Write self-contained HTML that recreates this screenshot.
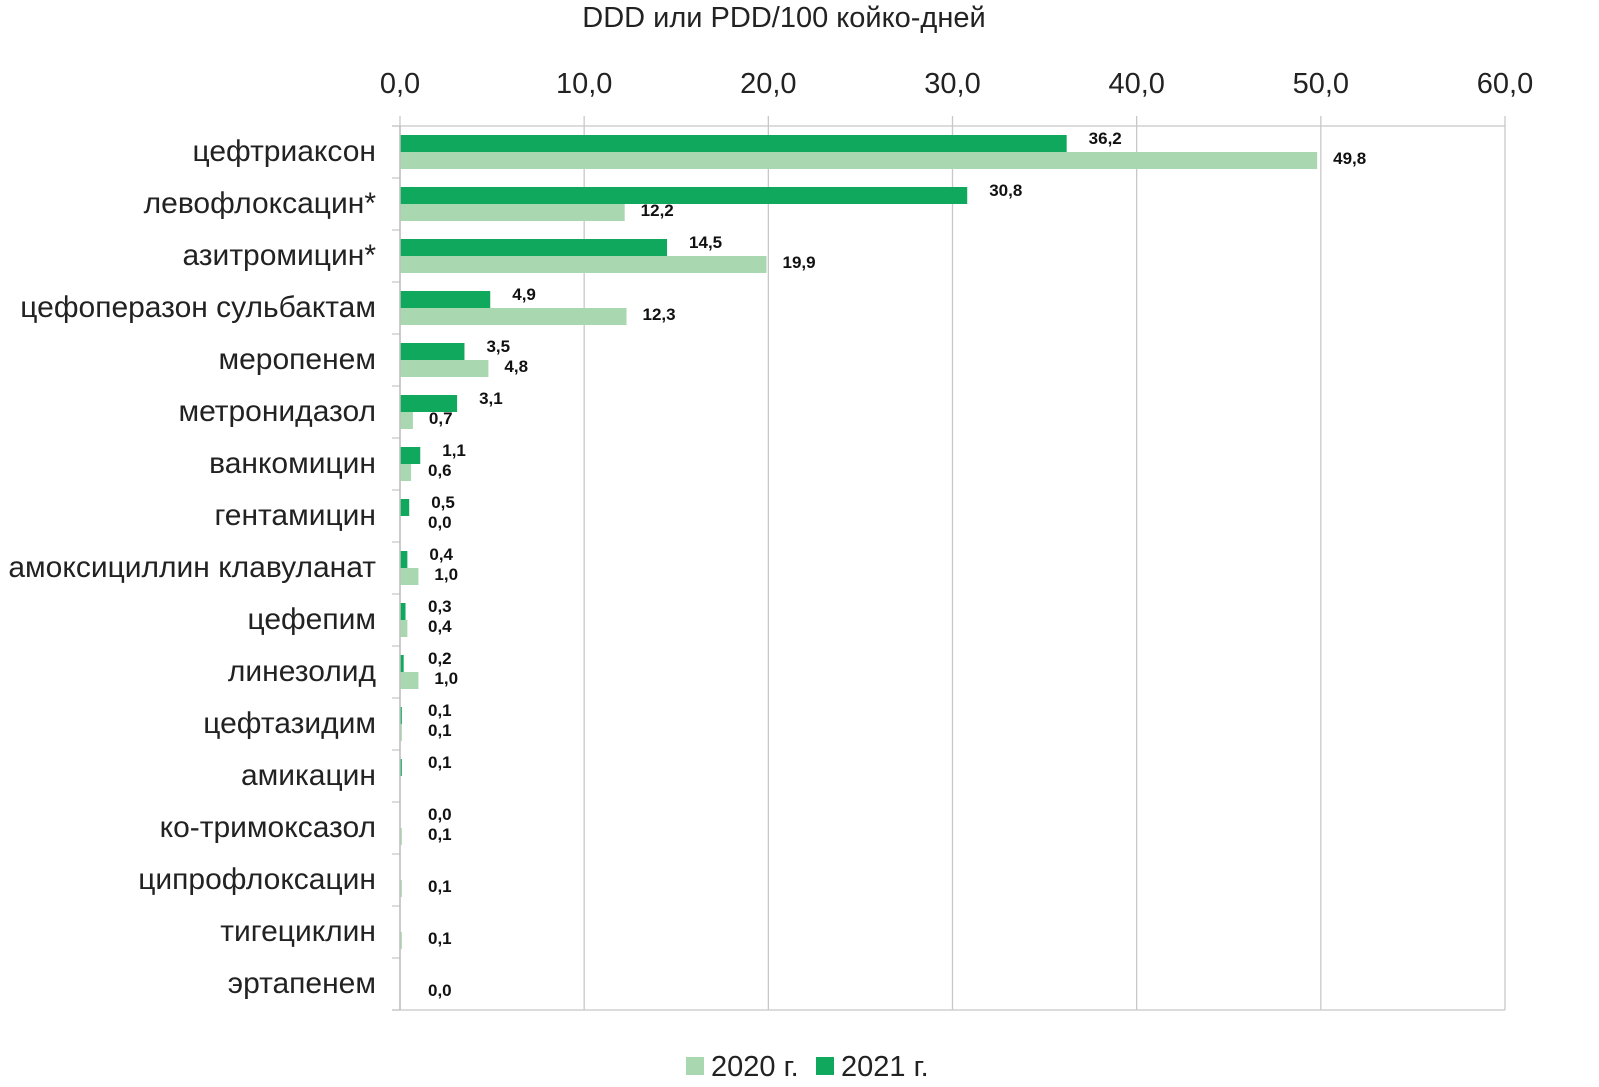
<!DOCTYPE html>
<html><head><meta charset="utf-8"><style>
body{margin:0;background:#fff;}
svg{display:block;font-family:"Liberation Sans","DejaVu Sans",sans-serif;}
</style></head><body>
<svg id="c" width="1599" height="1087"></svg>
<script>
const categories=["цефтриаксон","левофлоксацин*","азитромицин*","цефоперазон сульбактам","меропенем","метронидазол","ванкомицин","гентамицин","амоксициллин клавуланат","цефепим","линезолид","цефтазидим","амикацин","ко-тримоксазол","ципрофлоксацин","тигециклин","эртапенем"];
const values2021=[36.2,30.8,14.5,4.9,3.5,3.1,1.1,0.5,0.4,0.3,0.2,0.1,0.1,0.0,null,null,null];
const values2020=[49.8,12.2,19.9,12.3,4.8,0.7,0.6,0.0,1.0,0.4,1.0,0.1,null,0.1,0.1,0.1,0.0];
const xTicks=[0,10,20,30,40,50,60];
const svg=document.getElementById('c');
const NS='http://www.w3.org/2000/svg';
const L=400,R=1505,T=126,B=1010;
const band=(B-T)/categories.length;
const x=v=>L+(v/60)*(R-L);
function mk(t,a,p){const e=document.createElementNS(NS,t);for(const k in a)e.setAttribute(k,a[k]);(p||svg).appendChild(e);return e;}
let e=mk('text',{x:784,y:27,'text-anchor':'middle','font-size':29,fill:'#222'});e.textContent='DDD или PDD/100 койко-дней';


xTicks.forEach(t=>{
 const g=mk('line',{x1:x(t),x2:x(t),y1:T-10,y2:B,stroke:'#c8c8c8','stroke-width':1.3});
 
 
 const tx=mk('text',{x:x(t),y:93,'text-anchor':'middle','font-size':29,fill:'#222'});
 tx.textContent=t.toFixed(1).replace('.',',');
 
 
});
mk('line',{x1:L-8,x2:R,y1:T,y2:T,stroke:'#c8c8c8','stroke-width':1.3});
mk('line',{x1:L-8,x2:R,y1:B,y2:B,stroke:'#c8c8c8','stroke-width':1.3});
for(let i=0;i<=categories.length;i++)mk('line',{x1:L-8,x2:L,y1:T+i*band,y2:T+i*band,stroke:'#c8c8c8','stroke-width':1.3});
const fmt=v=>v.toFixed(1).replace('.',',');
categories.forEach((c,i)=>{
 const y0=T+i*band;
 const lb=mk('text',{x:376,y:y0+35,'text-anchor':'end','font-size':30,fill:'#222'});
 lb.textContent=c;
 
 
 if(values2021[i]!==null){
  const b=mk('rect',{x:L,y:y0+9,width:Math.max(x(values2021[i])-L,0),height:17,fill:'#10a85c'});
  
  
  const t=mk('text',{x:Math.max(x(values2021[i])+22,428),y:y0+18,'font-size':17,'font-weight':'bold',fill:'#111'});
  t.textContent=fmt(values2021[i]);
  
  
 }
 if(values2020[i]!==null){
  const b=mk('rect',{x:L,y:y0+26,width:Math.max(x(values2020[i])-L,0),height:17,fill:'#a9d7b0'});
  
  
  const t=mk('text',{x:Math.max(x(values2020[i])+16,428),y:y0+38,'font-size':17,'font-weight':'bold',fill:'#111'});
  t.textContent=fmt(values2020[i]);
  
  
 }
});
mk('line',{x1:L,x2:L,y1:T,y2:B,stroke:'#bfbfbf','stroke-width':1.5});
const lg=mk('g',{});


let r=mk('rect',{x:686,y:1057,width:18,height:18,fill:'#a9d7b0'},lg);


let t=mk('text',{x:711,y:1076,'font-size':29,fill:'#222'},lg);t.textContent='2020 г.';


r=mk('rect',{x:816,y:1057,width:18,height:18,fill:'#10a85c'},lg);


t=mk('text',{x:841,y:1076,'font-size':29,fill:'#222'},lg);t.textContent='2021 г.';


</script>
</body></html>
